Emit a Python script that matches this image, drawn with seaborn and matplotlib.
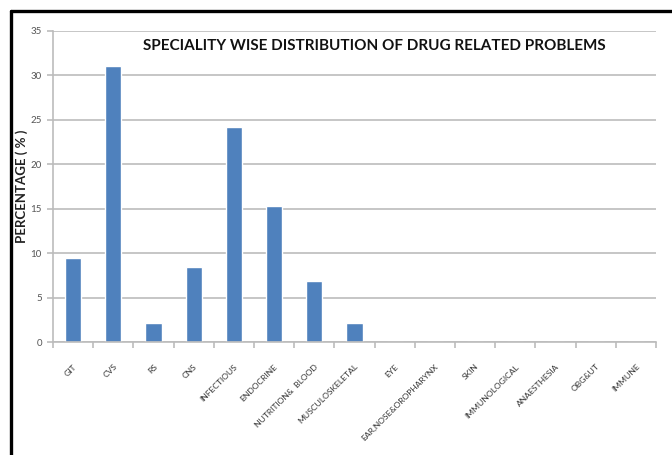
import matplotlib
matplotlib.use("Agg")
import matplotlib.pyplot as plt
from matplotlib.lines import Line2D
from matplotlib.ticker import FixedLocator
import seaborn as sns
import pandas as pd

specialities = ["GIT", "CVS", "RS", "CNS", "INFECTIOUS", "ENDOCRINE", "NUTRITION&  BLOOD",
                "MUSCULOSKELETAL", "EYE", "EAR,NOSE&OROPHARYNX", "SKIN", "IMMUNOLOGICAL",
                "ANAESTHESIA", "OBG&UT", "IMMUNE"]
percentages = [9.5, 31.1, 2.1, 8.4, 24.2, 15.3, 6.9, 2.1, 0, 0, 0, 0, 0, 0, 0]
y_ticks = [0, 5, 10, 15, 20, 25, 30, 35]

df = pd.DataFrame({"speciality": specialities, "percentage": percentages})

sns.set_theme(style="white")
plt.rcParams["font.family"] = ["Lato", "DejaVu Sans"]

fig = plt.figure(figsize=(6.72, 4.55), dpi=100)
ax = fig.add_axes([53 / 672, 1 - 342 / 455, 603 / 672, 311 / 455])

sns.barplot(data=df, x="speciality", y="percentage", color="#4F81BD",
            saturation=1, width=0.4, ax=ax)

ax.set_ylim(0, 35)
ax.set_xlim(-0.5, len(specialities) - 0.5)
ax.set_yticks(y_ticks)
ax.yaxis.grid(True, color="#bcbcbc", linewidth=1.2)
ax.set_axisbelow(True)

for side in ["top", "right"]:
    ax.spines[side].set_visible(False)
ax.spines["left"].set_color("#bcbcbc")
ax.spines["left"].set_linewidth(1.2)
ax.spines["bottom"].set_color("#bcbcbc")
ax.spines["bottom"].set_linewidth(1.2)

# category separators as tick marks on the x axis
ax.xaxis.set_minor_locator(FixedLocator([i - 0.5 for i in range(len(specialities) + 1)]))
ax.tick_params(axis="x", which="minor", bottom=True, length=4, color="#bcbcbc", width=1.2)
ax.tick_params(axis="x", which="major", bottom=False, length=0, pad=15)
ax.tick_params(axis="y", left=True, length=4, color="#bcbcbc", width=1.2, pad=4,
               labelsize=7, labelcolor="#555555")

ax.set_xticks(range(len(specialities)))
ax.set_xticklabels(specialities, rotation=45, ha="right", rotation_mode="anchor",
                   fontsize=6.1, color="#333333")
ax.set_xlabel("")
ax.set_ylabel("PERCENTAGE ( % )", fontsize=9.5, fontweight="bold", color="#222222",
              labelpad=2)

fig.text(374 / 672, 1 - 46 / 455, "SPECIALITY WISE DISTRIBUTION OF DRUG RELATED PROBLEMS",
         ha="center", va="center", fontsize=11, fontweight="bold", color="#111111")

# frame lines along the top and left edge of the figure
fig.add_artist(Line2D([11 / 672, 1.0], [1 - 11 / 455, 1 - 11 / 455],
                      transform=fig.transFigure, color="black", linewidth=2.4))
fig.add_artist(Line2D([11 / 672, 11 / 672], [0.0, 1 - 11 / 455],
                      transform=fig.transFigure, color="black", linewidth=2.4))

fig.savefig("out.png", dpi=100, facecolor="white")
